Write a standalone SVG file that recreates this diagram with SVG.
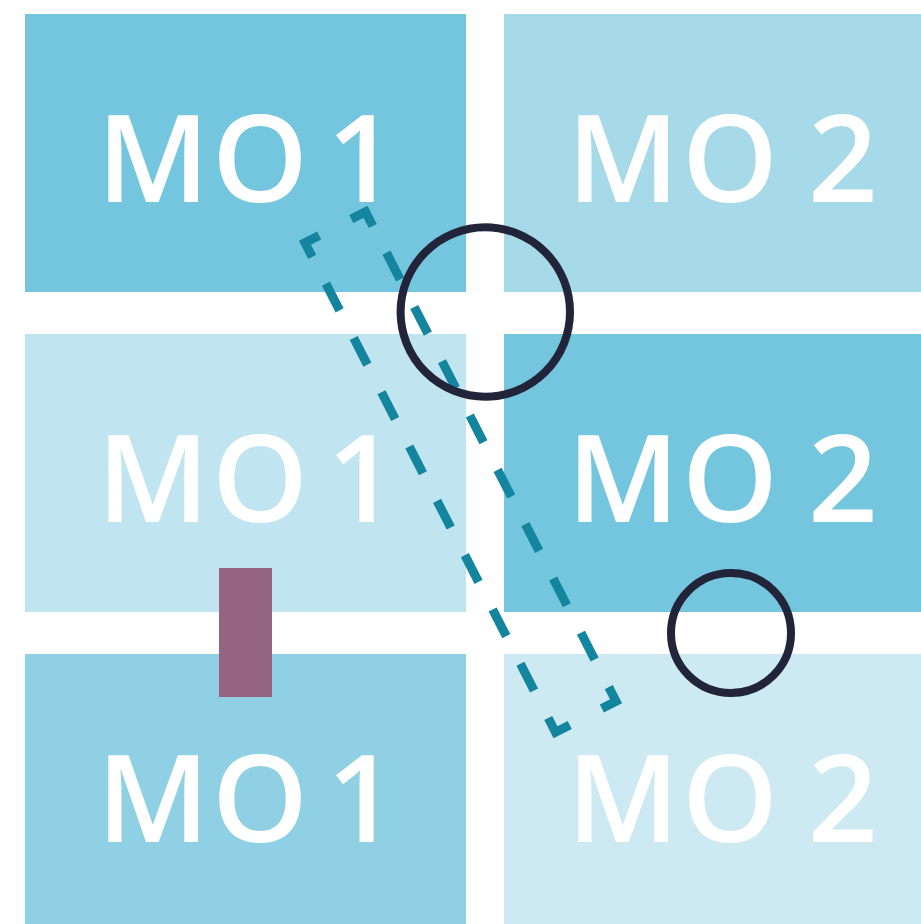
<svg xmlns="http://www.w3.org/2000/svg" width="921" height="924" viewBox="0 0 921 924">
<style>
.lbl{font-family:"Open Sans","Liberation Sans",sans-serif;font-size:122px;fill:#ffffff;font-weight:600}
.ring{fill:none;stroke:#22243a;stroke-width:8}
.dash{fill:none;stroke:#13859f;stroke-width:9;stroke-linecap:butt;stroke-linejoin:miter}
</style>
<rect width="921" height="924" fill="#ffffff"/>
<g id="tile-r1c1"><rect x="25" y="14" width="441" height="278" fill="#74c6df"/><text class="lbl" x="97 212 327" y="202">MO1</text></g>
<g id="tile-r1c2"><rect x="504" y="14" width="441" height="278" fill="#a6dae9"/><text class="lbl" x="567 682 808" y="202">MO2</text></g>
<g id="tile-r2c1"><rect x="25" y="334" width="441" height="278" fill="#c1e5f0"/><text class="lbl" x="97 212 327" y="522">MO1</text></g>
<g id="tile-r2c2"><rect x="504" y="334" width="441" height="278" fill="#74c6df"/><text class="lbl" x="567 682 808" y="522">MO2</text></g>
<g id="tile-r3c1"><rect x="25" y="654" width="441" height="280" fill="#8fd0e4"/><text class="lbl" x="97 212 327" y="842">MO1</text></g>
<g id="tile-r3c2"><rect x="504" y="654" width="441" height="280" fill="#cdeaf3"/><text class="lbl" x="567 682 808" y="842">MO2</text></g>
<g id="marker-bar"><rect x="219" y="568" width="53" height="129" fill="#956482"/></g>
<g id="connectors">
<g id="dashed-box" transform="translate(460.5,472) rotate(-27.1)" class="dash">
<polyline points="-34,-259 -34,-275 -18,-275"/>
<polyline points="18,-275 34,-275 34,-259"/>
<polyline points="34,259 34,275 18,275"/>
<polyline points="-18,275 -34,275 -34,259"/>
<line x1="-34" y1="-229" x2="-34" y2="229" stroke-dasharray="30 31"/>
<line x1="34" y1="-229" x2="34" y2="229" stroke-dasharray="30 31"/>
</g>
<circle id="ring-big" class="ring" cx="485.3" cy="312" r="84.7"/>
<circle id="ring-small" class="ring" cx="731" cy="633" r="60"/>
</g>
</svg>
